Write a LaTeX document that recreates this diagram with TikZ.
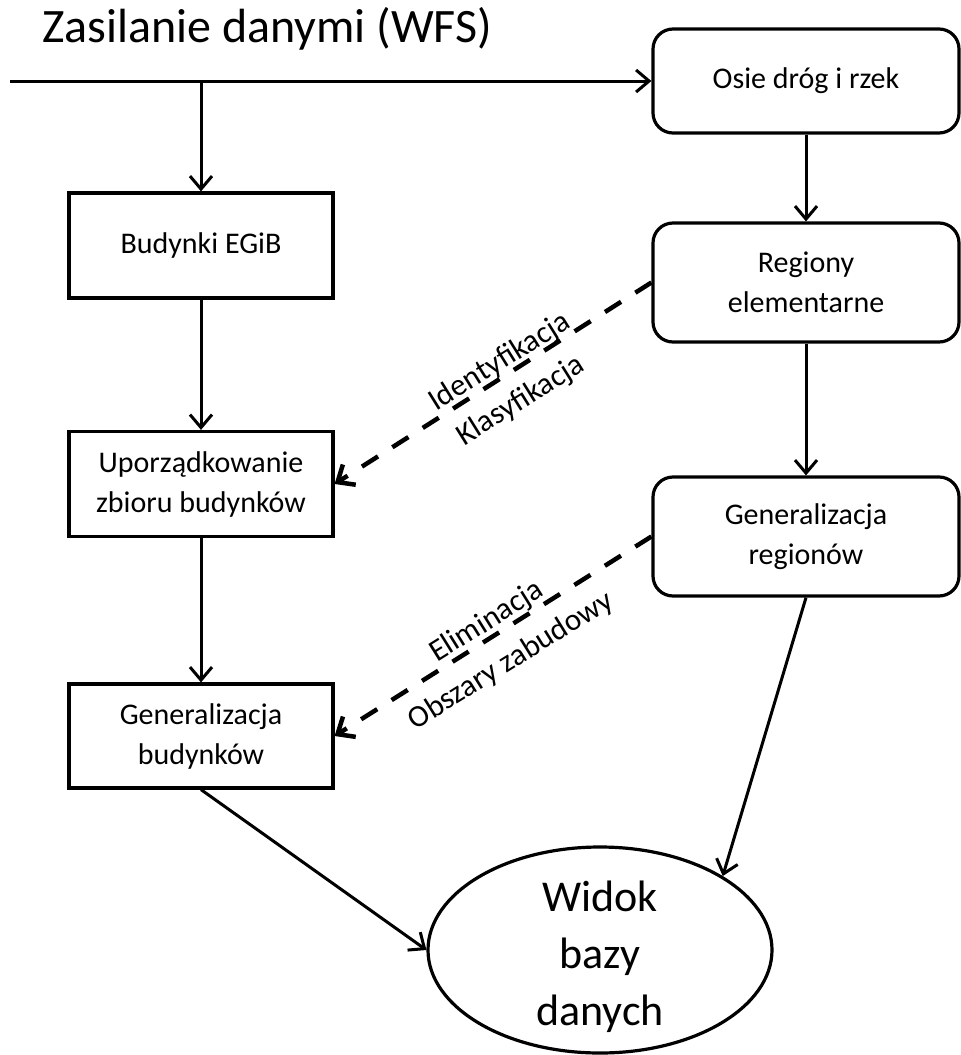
\documentclass[tikz,border=0pt]{standalone}
\usepackage{fontspec}
\setmainfont{Carlito}
\usetikzlibrary{arrows.meta,shapes.geometric}
\begin{document}
\begin{tikzpicture}[x=1pt,y=1pt,
  box/.style={draw, line width=3.2pt, minimum width=264pt, minimum height=105pt, inner sep=0pt, align=center, font=\fontsize{30}{40}\selectfont},
  rbox/.style={box, rounded corners=20pt, minimum width=306pt, minimum height=119pt},
  conn/.style={line width=3pt, -{Straight Barb[length=13pt,width=22pt]}},
  dconn/.style={line width=4.5pt, dash pattern=on 19pt off 17pt, -{Straight Barb[length=14pt,width=24pt]}},
  lbl/.style={font=\fontsize{31}{31}\selectfont, rotate=32, inner sep=0pt}]
\useasboundingbox (0,0) rectangle (961,-1055);
\node[anchor=base west, inner sep=0pt, font=\fontsize{48}{50}\selectfont] (title) at (42,-42) {Zasilanie danymi (WFS)};
\node[box] (b1) at (201,-245.5) {Budynki EGiB};
\node[box] (b2) at (201,-484) {Uporządkowanie\\zbioru budynków};
\node[box, minimum height=104pt] (b3) at (201,-736) {Generalizacja\\budynków};
\node[rbox, minimum height=104pt] (r1) at (806,-81) {Osie dróg i rzek};
\node[rbox] (r2) at (806,-282.5) {Regiony\\elementarne};
\node[rbox] (r3) at (806,-536.5) {Generalizacja\\regionów};
\node[draw, ellipse, line width=3.2pt, minimum width=344pt, minimum height=206pt, inner sep=0pt] (ell) at (600,-950) {};
\node[align=center, inner sep=0pt, font=\fontsize{44}{57}\selectfont] (elltext) at (600,-956.5) {Widok\\bazy\\danych};
\coordinate (start) at (10,-81);
\coordinate (br) at (b1.north |- start);
\draw[conn] (start) -- (r1.west);
\draw[conn] (br) -- (b1.north);
\draw[conn] (b1) -- (b2);
\draw[conn] (b2) -- (b3);
\draw[conn] (r1) -- (r2);
\draw[conn] (r2) -- (r3);
\draw[conn] (r3.south) -- (ell.north east);
\draw[conn] (b3.south) -- (ell.west);
\draw[dconn] (r2.west) -- (b2.east);
\draw[dconn] (r3.west) -- (b3.east);
\node[lbl] (l1) at (500,-362) {Identyfikacja};
\node[lbl] (l2) at (521,-401) {Klasyfikacja};
\node[lbl] (l3) at (487,-622) {Eliminacja};
\node[lbl] (l4) at (511,-661) {Obszary zabudowy};
\end{tikzpicture}
\end{document}
